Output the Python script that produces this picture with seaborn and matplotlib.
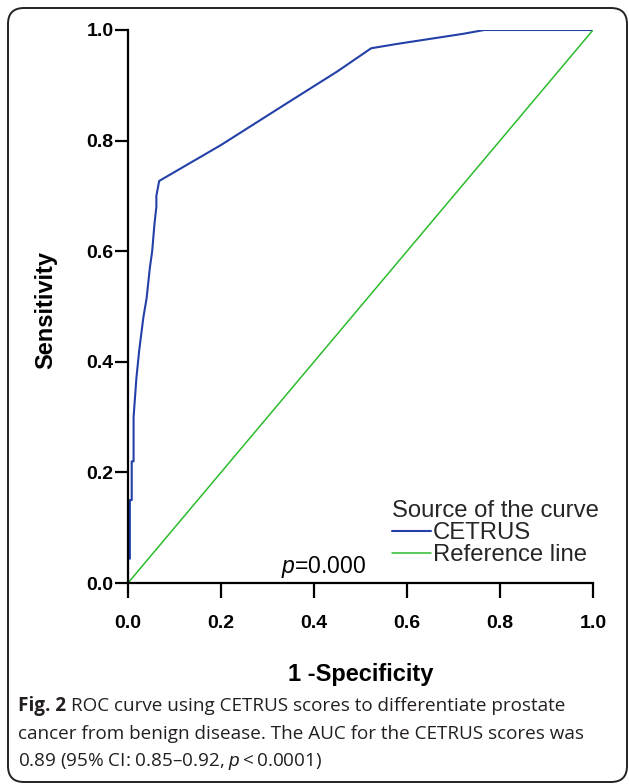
import matplotlib
matplotlib.use("Agg")
import matplotlib.pyplot as plt
import pandas as pd
import seaborn as sns
from matplotlib.patches import FancyBboxPatch

# ROC points (1 - specificity, sensitivity)
cetrus_fpr = [0.000, 0.000, 0.004, 0.004, 0.008, 0.008, 0.012, 0.012, 0.018,
              0.024, 0.033, 0.040, 0.047, 0.052, 0.057, 0.061, 0.061, 0.067,
              0.200, 0.350, 0.450, 0.523, 0.580, 0.650, 0.720, 0.766, 1.000]
cetrus_tpr = [0.000, 0.044, 0.044, 0.150, 0.150, 0.220, 0.220, 0.300, 0.370,
              0.420, 0.480, 0.515, 0.570, 0.600, 0.650, 0.680, 0.700, 0.727,
              0.792, 0.872, 0.925, 0.967, 0.975, 0.984, 0.993, 1.000, 1.000]
ref_fpr = [0.0, 1.0]
ref_tpr = [0.0, 1.0]
curve_names = ["CETRUS", "Reference line"]
tick_values = [0.0, 0.2, 0.4, 0.6, 0.8, 1.0]
tick_labels = ["0.0", "0.2", "0.4", "0.6", "0.8", "1.0"]
caption_lines = [
    "ROC curve using CETRUS scores to differentiate prostate",
    "cancer from benign disease. The AUC for the CETRUS scores was",
    "0.89 (95% CI: 0.85\u20130.92, $p$\u2009<\u20090.0001)",
]

BLUE = "#2340a8"
GREEN = "#2cbc2c"

sns.set_theme(style="white")
plt.rcParams["font.family"] = ["Liberation Sans", "DejaVu Sans"]
plt.rcParams["mathtext.fontset"] = "custom"
plt.rcParams["mathtext.rm"] = "Liberation Sans"
plt.rcParams["mathtext.it"] = "Liberation Sans:italic"

W, H = 629, 784
fig = plt.figure(figsize=(W / 100, H / 100), dpi=100)
fig.patch.set_facecolor("white")

# rounded frame around the whole figure
frame = FancyBboxPatch((0.08, 0.02), 6.19, 7.74,
                       boxstyle="round,pad=0,rounding_size=0.16",
                       transform=fig.dpi_scale_trans, fill=False,
                       edgecolor="#222222", linewidth=1.4)
fig.patches.append(frame)

ax = fig.add_axes([128 / W, 1 - 583 / H, 465 / W, 553 / H])

df = pd.DataFrame({
    "fpr": cetrus_fpr + ref_fpr,
    "tpr": cetrus_tpr + ref_tpr,
    "curve": [curve_names[0]] * len(cetrus_fpr) + [curve_names[1]] * len(ref_fpr),
})
sns.lineplot(data=df, x="fpr", y="tpr", hue="curve",
             palette={curve_names[0]: BLUE, curve_names[1]: GREEN},
             estimator=None, sort=False, linewidth=1.5, ax=ax, legend=False)
ax.lines[1].set_linewidth(1.1)

ax.set_xlim(0, 1)
ax.set_ylim(0, 1)
for side in ["top", "right"]:
    ax.spines[side].set_visible(False)
for side in ["left", "bottom"]:
    ax.spines[side].set_color("black")
    ax.spines[side].set_linewidth(1.6)

ax.set_xticks(tick_values)
ax.set_yticks(tick_values)
ax.set_xticklabels(tick_labels, fontsize=14, fontweight="bold")
ax.set_yticklabels(tick_labels, fontsize=14, fontweight="bold")
ax.tick_params(axis="both", direction="out", width=1.6,
               colors="black", left=True, bottom=True)
ax.tick_params(axis="x", length=11, pad=12)
ax.tick_params(axis="y", length=9.5, pad=1)
for lbl in ax.get_yticklabels():
    lbl.set_va("center_baseline")

ax.set_xlabel("1 -Specificity", fontsize=17, fontweight="bold", color="black")
ax.set_ylabel("Sensitivity", fontsize=17, fontweight="bold", color="black")
ax.xaxis.set_label_coords(0.5, -0.166)
ax.xaxis.label.set_va("center")
ax.yaxis.set_label_coords(-0.176, 0.494)
ax.yaxis.label.set_va("center")

ax.text(0.512, 0.018, "$p$=0.000", transform=ax.transAxes, ha="right",
        va="baseline", fontsize=16.5, color="black")

leg = fig.legend(handles=ax.lines[:2], labels=curve_names,
                 title="Source of the curve", loc="upper left",
                 bbox_to_anchor=(392 / W, 1 - 500 / H), frameon=False,
                 fontsize=17.2, title_fontsize=17.2, borderpad=0,
                 borderaxespad=0, handlelength=1.65, handletextpad=0.05,
                 labelspacing=0.0, alignment="left")

# caption with bold "Fig. 2"
cap_color = "#231f20"
cap_font = ["Open Sans", "DejaVu Sans"]
cap_size = 13.6
renderer = fig.canvas.get_renderer()
bold = fig.text(18 / W, 1 - 711 / H, "Fig. 2", fontsize=cap_size,
                fontweight="bold", family=cap_font,
                color=cap_color, va="baseline")
bb = bold.get_window_extent(renderer)
fig.text(bb.x1 / W + 5 / W, 1 - 711 / H, caption_lines[0], fontsize=cap_size,
         family=cap_font, color=cap_color, va="baseline")
for i, line in enumerate(caption_lines[1:]):
    fig.text(18 / W, 1 - (739 + 27 * i) / H, line, fontsize=cap_size,
             family=cap_font, color=cap_color, va="baseline")

fig.savefig("out.png", dpi=100)
